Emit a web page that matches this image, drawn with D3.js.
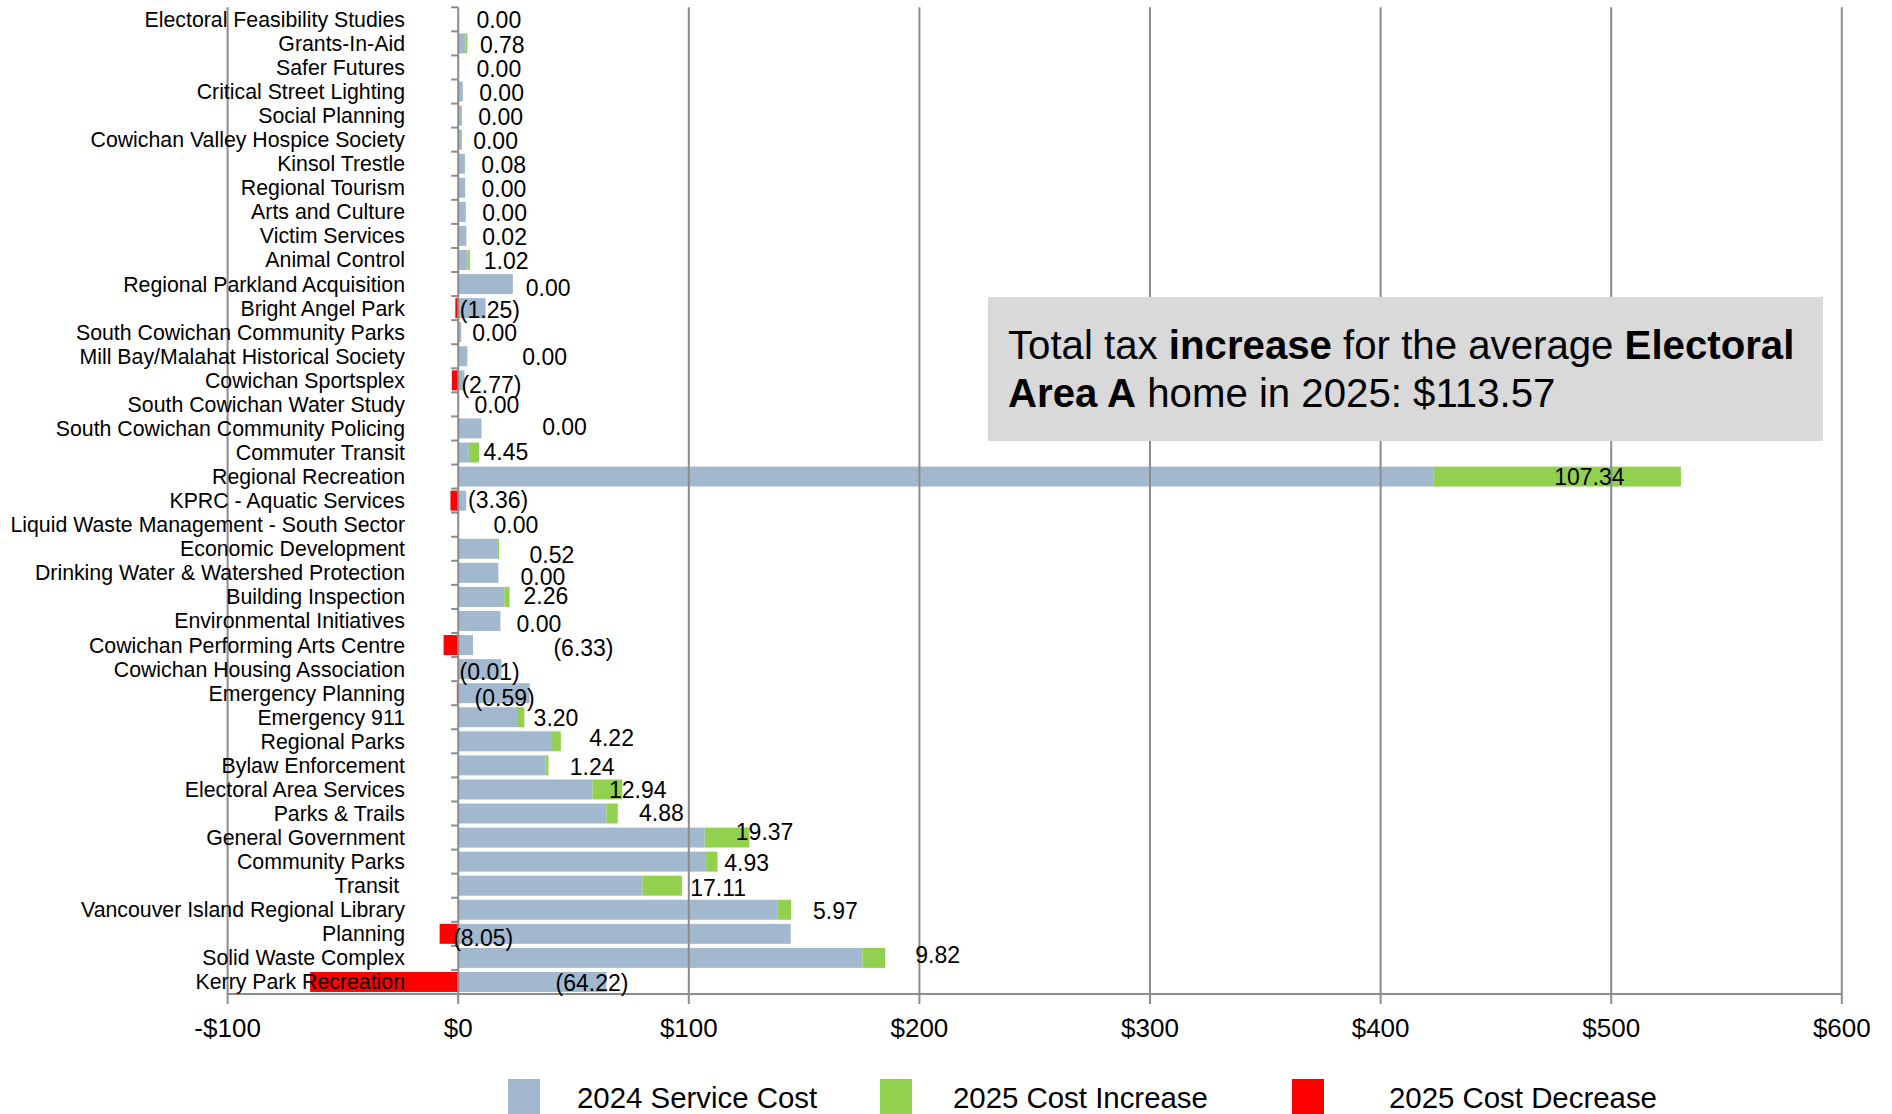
<!DOCTYPE html>
<html>
<head>
<meta charset="utf-8">
<script src="https://cdn.jsdelivr.net/npm/d3@7"></script>
<style>
  html, body { margin: 0; padding: 0; background: #ffffff; }
  svg { display: block; font-family: "Liberation Sans", Arial, sans-serif; }
  text { white-space: pre; }
</style>
</head>
<body>
<svg id="chart" width="1892" height="1114"></svg>
<script>
// ---------- data ----------
const categories = [
  "Electoral Feasibility Studies", "Grants-In-Aid", "Safer Futures", "Critical Street Lighting",
  "Social Planning", "Cowichan Valley Hospice Society", "Kinsol Trestle", "Regional Tourism",
  "Arts and Culture", "Victim Services", "Animal Control", "Regional Parkland Acquisition",
  "Bright Angel Park", "South Cowichan Community Parks", "Mill Bay/Malahat Historical Society",
  "Cowichan Sportsplex", "South Cowichan Water Study", "South Cowichan Community Policing",
  "Commuter Transit", "Regional Recreation", "KPRC - Aquatic Services",
  "Liquid Waste Management - South Sector", "Economic Development",
  "Drinking Water & Watershed Protection", "Building Inspection", "Environmental Initiatives",
  "Cowichan Performing Arts Centre", "Cowichan Housing Association", "Emergency Planning",
  "Emergency 911", "Regional Parks", "Bylaw Enforcement", "Electoral Area Services",
  "Parks & Trails", "General Government", "Community Parks", "Transit ",
  "Vancouver Island Regional Library", "Planning", "Solid Waste Complex", "Kerry Park Recreation"
];
const serviceCost2024 = [
  0.3, 3.2, 0.4, 2.0, 1.6, 1.6, 2.9, 3.0, 3.3, 3.5, 4.0, 23.7,
  11.9, 1.3, 4.0, 2.7, 0, 10.1, 4.6, 422.9, 3.5, 0, 17.2, 17.4,
  20.0, 18.3, 6.4, 18.8, 31.0, 25.5, 40.3, 37.9, 58.2, 64.3, 106.9, 107.5,
  79.9, 138.4, 144.2, 175.3, 64.3
];
const costIncrease2025 = [
  0, 0.78, 0, 0, 0, 0, 0.08, 0, 0, 0.02, 1.02, 0,
  0, 0, 0, 0, 0, 0, 4.45, 107.34, 0, 0, 0.52, 0,
  2.26, 0, 0, 0, 0, 3.20, 4.22, 1.24, 12.94, 4.88, 19.37, 4.93,
  17.11, 5.97, 0, 9.82, 0
];
const costDecrease2025 = [
  0, 0, 0, 0, 0, 0, 0, 0, 0, 0, 0, 0,
  1.25, 0, 0, 2.77, 0, 0, 0, 0, 3.36, 0, 0, 0,
  0, 0, 6.33, 0.01, 0.59, 0, 0, 0, 0, 0, 0, 0,
  0, 0, 8.05, 0, 64.22
];
const xTicks = [-100, 0, 100, 200, 300, 400, 500, 600];
const seriesNames = ["2024 Service Cost", "2025 Cost Increase", "2025 Cost Decrease"];

// data-label placement (left edge in $ units, vertical nudge in px) - layout only
const labelAtDollars = [
  7.9, 9.4, 7.9, 9.1, 8.7, 6.5, 10.0, 10.1, 10.4, 10.4, 11.1, 29.3,
  0.7, 6.1, 27.8, 1.4, 7.1, 36.4, 11.0, 475.3, 4.3, 15.3, 30.9, 27.0,
  28.3, 25.3, 41.3, 0.6, 7.1, 32.7, 56.8, 48.4, 65.4, 78.4, 120.4, 115.4,
  100.6, 153.9, -2.2, 198.2, 42.2
];
const labelNudge = [
  0.7, 0.9, 0.9, 1.2, 1.1, 1, 1, 0.9, 0.8, 0.7, 0.7, 3.2,
  1.1, 1, 0.9, 4.6, 0.5, -1.9, -0.9, 0.4, -0.7, 0.2, 6.2, 3.8,
  -1, 3, 2.8, 2.8, 4.7, 0.6, -3.1, 1.2, 0.4, -0.3, -6, 0.9,
  1.8, 0.7, 4.3, -3.1, 1.1
];

(function () {
  const colors = ["#a2b8cf", "#92d050", "#ff0000"];
  const gridColor = "#8c8c8c";

  const svg = d3.select("#chart");
  const plotTop = 7.3, plotBottom = 994;

  const x = d3.scaleLinear().domain([-100, 600]).range([227.6, 1841.8]);
  const y = d3.scaleBand().domain(categories).range([plotTop, plotBottom]).paddingInner(0.17).paddingOuter(0.085);
  const band = d3.scaleBand().domain(categories).range([plotTop, plotBottom]);

  const rows = categories.map((c, i) => ({
    cat: c,
    base: serviceCost2024[i],
    inc: costIncrease2025[i],
    dec: costDecrease2025[i],
    lx: labelAtDollars[i],
    ly: labelNudge[i]
  }));

  // bars
  const gBars = svg.append("g");
  gBars.selectAll("rect.base").data(rows).join("rect")
    .attr("x", x(0)).attr("y", d => y(d.cat))
    .attr("width", d => x(d.base) - x(0)).attr("height", y.bandwidth())
    .attr("fill", colors[0]);
  gBars.selectAll("rect.inc").data(rows.filter(d => d.inc > 0)).join("rect")
    .attr("x", d => x(d.base)).attr("y", d => y(d.cat))
    .attr("width", d => x(d.base + d.inc) - x(d.base)).attr("height", y.bandwidth())
    .attr("fill", colors[1]);
  gBars.selectAll("rect.dec").data(rows.filter(d => d.dec > 0)).join("rect")
    .attr("x", d => x(-d.dec)).attr("y", d => y(d.cat))
    .attr("width", d => x(0) - x(-d.dec)).attr("height", y.bandwidth())
    .attr("fill", colors[2]);

  // gridlines + x axis
  const gGrid = svg.append("g");
  gGrid.selectAll("line.g").data(xTicks).join("line")
    .attr("x1", d => x(d)).attr("x2", d => x(d))
    .attr("y1", plotTop).attr("y2", plotBottom + 10)
    .attr("stroke", gridColor).attr("stroke-width", 2);
  gGrid.append("line")
    .attr("x1", x(-100)).attr("x2", x(600)).attr("y1", plotBottom).attr("y2", plotBottom)
    .attr("stroke", gridColor).attr("stroke-width", 2);

  // y axis ticks at band boundaries
  const boundaries = categories.map(c => band(c)).concat([plotBottom]);
  gGrid.selectAll("line.yt").data(boundaries).join("line")
    .attr("x1", x(0) - 7).attr("x2", x(0))
    .attr("y1", d => d).attr("y2", d => d)
    .attr("stroke", gridColor).attr("stroke-width", 2);

  // x tick labels
  svg.append("g").selectAll("text").data(xTicks).join("text")
    .attr("x", d => x(d)).attr("y", 1037)
    .attr("text-anchor", "middle")
    .attr("font-size", 26).attr("fill", "#000")
    .text(d => (d < 0 ? "-$" + Math.abs(d) : "$" + d));

  // category labels
  svg.append("g").selectAll("text").data(rows).join("text")
    .attr("x", 405).attr("y", d => band(d.cat) + band.bandwidth() / 2)
    .attr("dy", "0.35em").attr("text-anchor", "end")
    .attr("font-size", 21.3).attr("fill", "#000")
    .text(d => d.cat);

  // data labels
  const fmt = d3.format(".2f");
  svg.append("g").selectAll("text").data(rows).join("text")
    .attr("x", d => x(d.lx))
    .attr("y", d => band(d.cat) + band.bandwidth() / 2 + d.ly)
    .attr("dy", "0.36em")
    .attr("font-size", 23).attr("fill", "#000")
    .text(d => d.dec > 0 ? "(" + fmt(d.dec) + ")" : fmt(d.inc));

  // annotation box
  const ann = svg.append("g");
  ann.append("rect").attr("x", 988).attr("y", 297).attr("width", 835).attr("height", 144).attr("fill", "#d9d9d9");
  const t1 = ann.append("text").attr("x", 1008).attr("y", 359).attr("font-size", 40.2).attr("fill", "#000");
  t1.append("tspan").text("Total tax ");
  t1.append("tspan").attr("font-weight", "bold").text("increase");
  t1.append("tspan").text(" for the average ");
  t1.append("tspan").attr("font-weight", "bold").text("Electoral");
  const t2 = ann.append("text").attr("x", 1008).attr("y", 407).attr("font-size", 40.2).attr("fill", "#000");
  t2.append("tspan").attr("font-weight", "bold").text("Area A");
  t2.append("tspan").text(" home in 2025: $113.57");

  // legend
  const legX = [508, 880, 1292];
  const legTextX = [577, 953, 1389];
  const leg = svg.append("g").selectAll("g").data(seriesNames).join("g");
  leg.append("rect").attr("x", (d, i) => legX[i]).attr("y", 1079).attr("width", 32).attr("height", 36)
    .attr("fill", (d, i) => colors[i]);
  leg.append("text").attr("x", (d, i) => legTextX[i]).attr("y", 1108)
    .attr("font-size", 29.4).attr("fill", "#000").text(d => d);
})();
</script>
</body>
</html>
